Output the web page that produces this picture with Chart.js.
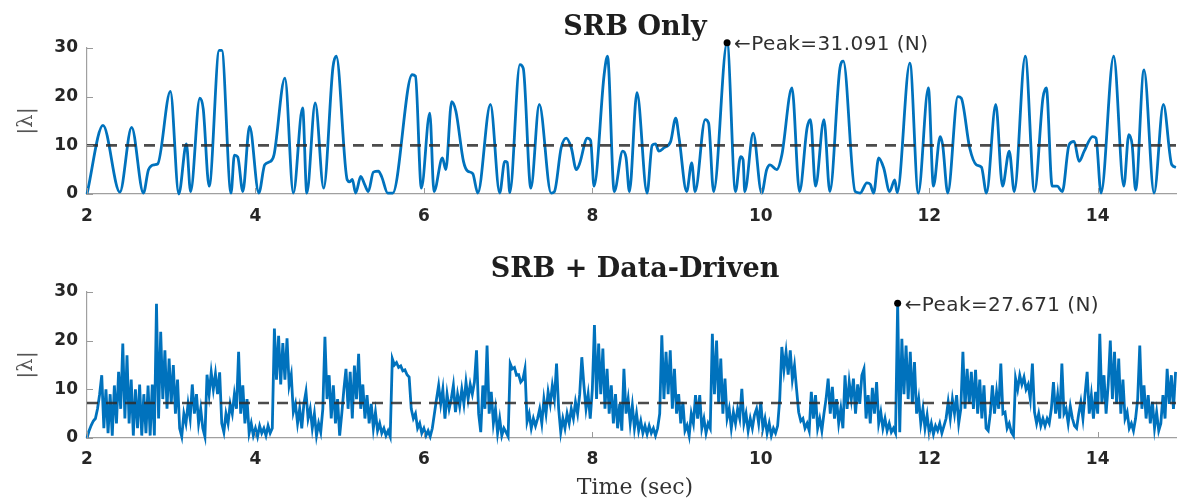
<!DOCTYPE html>
<html><head><meta charset="utf-8">
<script src="https://cdn.jsdelivr.net/npm/chart.js@4.4.1/dist/chart.umd.min.js"></script>
<style>
html,body{margin:0;padding:0;background:#fff;width:1179px;height:499px;overflow:hidden}
canvas{position:absolute;left:0}
#c1{top:0}
#c2{top:250px}
</style></head><body>
<canvas id="c1" width="1179" height="250"></canvas>
<canvas id="c2" width="1179" height="249"></canvas>
<script>
// ---------- DATA ----------
const xTicks = [2, 4, 6, 8, 10, 12, 14];
const yTicks = [0, 10, 20, 30];
const timeRange = [2, 14.93];

// Top: SRB only (time, |lambda|) read at extrema
const srbTime = [2.0,2.19,2.39,2.53,2.67,2.73,2.8,2.84,2.99,3.09,3.18,3.23,3.34,3.38,3.45,3.57,3.6,3.71,3.75,3.79,3.85,3.93,4.04,4.11,4.18,4.22,4.35,4.45,4.56,4.61,4.71,4.81,4.92,4.96,5.09,5.12,5.15,5.19,5.25,5.3,5.34,5.4,5.46,5.5,5.57,5.63,5.86,5.9,5.97,6.07,6.12,6.22,6.26,6.33,6.38,6.47,6.52,6.58,6.64,6.79,6.9,6.96,6.99,7.02,7.14,7.18,7.27,7.37,7.51,7.55,7.63,7.69,7.75,7.81,7.85,7.94,7.98,8.02,8.14,8.18,8.26,8.36,8.4,8.44,8.53,8.65,8.71,8.75,8.79,8.85,8.93,8.99,9.03,9.12,9.18,9.22,9.34,9.38,9.44,9.6,9.7,9.76,9.79,9.81,9.91,10.01,10.07,10.11,10.19,10.25,10.37,10.46,10.55,10.59,10.65,10.75,10.82,10.94,10.98,11.12,11.18,11.26,11.3,11.34,11.4,11.46,11.53,11.59,11.62,11.77,11.87,11.99,12.05,12.13,12.16,12.22,12.34,12.38,12.48,12.56,12.62,12.68,12.79,12.87,12.95,13.01,13.14,13.25,13.35,13.39,13.46,13.52,13.58,13.66,13.72,13.78,13.84,13.94,13.98,14.04,14.19,14.31,14.37,14.41,14.45,14.55,14.67,14.78,14.88,14.93];
const srbForce = [0,14.1,0.4,13.7,0.2,5,6,6.2,21.1,0,10.3,0.5,19.7,17.5,1.6,29.5,29.5,0.2,8,7.6,0.5,13.9,0.2,6,6.7,8,23.8,0.2,17.7,0.2,18.7,1.2,26,28.3,2.9,2.5,3,0.2,3.6,1.8,0.5,4.5,4.7,3.5,0.2,0.2,24.5,24.2,1.2,16.6,0.5,7.4,5,19,17,6.7,4.7,4.2,0.2,18.4,0.2,6.7,6.5,0.3,26.6,25.8,1.2,18.4,0.2,0.5,9.5,11.5,9.5,5,6.3,11.5,11,1.6,24.5,28.3,0.5,8.8,7.5,0.5,20.8,0.2,10,10.3,8.8,9.5,10.8,15.6,11.5,0.5,6.4,0.5,15.3,14.6,0.5,31.091,0.5,7.7,7,0.5,12.5,0.2,5,6,5,8,21.8,0.5,13.6,15.3,1.6,15.3,0.5,25.9,27.3,0.5,0.2,2.3,2,0.2,7.4,5.3,0.5,2.9,0.3,26.9,0.2,21.8,1.6,11.8,10,0.2,20,19.7,9.5,6,5.5,0.2,18.4,1.6,8.8,0.5,28.3,0.5,19.7,21.8,1.6,1.6,0.5,10.1,10.8,6.7,8.8,11.8,11.5,0.2,28.3,1.6,12.2,10,0.8,25.5,0.2,18.4,6,5.5];
const srbThreshold = 10;
const srbPeak = [9.6, 31.091];

// Bottom: SRB + Data-Driven, sampled every 0.025 s from 2.0 s
const ddStart = 2.0, ddStep = 0.025;
const ddForce = [
0,1.5,2.6,3.5,4,6,9,12.9,2,10,1,9,0.5,10.8,3,13.6,6,19.4,4,17,
3,12,0.5,10,2,11,0.5,9,1,10.8,0.5,11,0.5,27.6,4,21.8,8,18,6,16.3,
7,15,5,12,2,0.3,5,3,7,4,11,5,9,3,6,2,0.3,13,9,13.5,
10,13.2,9,13.5,3,1.2,5,3,7,5,9,6,17.7,5,10.8,3,8,1,3,0.5,
2,0.3,2.5,1,2,0.5,2.5,1,2,22.5,12,21,11,19.5,12,20.5,10.8,13,5.3,7,
3,6,2,7,9.5,4,6,2,5,0.5,3,1.2,6,20.8,8,12.9,4,10.8,3,8,
0.5,5,10,14.2,6,13.6,4,14.9,8,17.3,6,11,4,8.8,3,7,2,5.3,1.5,3,
1,2,0.5,1.5,0.3,16.3,15,15.5,14.5,14.8,13.8,14,13,12.5,6,4,5,2,3,1,
2,0.5,1.5,0.3,2,5,8,10.8,7,10,4,9,6,8,10.8,5.3,9,6.5,10,7,
11.5,8,11,9,11.5,18,5,1.2,10.8,6,19,5,9.5,3,6,1,4,0.5,2,1.2,
0.3,15.3,14.2,14.5,12.9,13,11.5,12,14.2,3.3,5,2,4,2.5,4,6,3,8,5,9.5,
7,10.8,8,15.3,6,1.2,4,2,5,3,6,4,7.4,5,9,16.6,10.8,6,9,4,
10,23.2,8,19.4,9,18.4,6,14.2,5,10.8,3,9,2,7,1.5,14.2,5,8,3,6.7,
2,5,1.5,3.5,1,2.5,0.8,2.5,1,2,0.5,2,5,21.1,8,17.7,9,18,6,14.2,
5,9,3,7.4,1.5,2.6,0.5,5,3,8.8,4,8.8,2,4,1,3,2,21.4,9,20,
7,16.3,5,12.2,4,6,2,5.3,3,6,4,10.1,3,5,1.5,4,2,4.7,6,3,
7.4,2,4,1,3,0.5,2,1,2.5,8,18.7,14,17.7,13,18,12,14.9,10,5.3,3.5,
4,2,3,1.5,9.5,4,8.8,2,4,1.5,5,8,12.2,5,10.5,4,8,3,6,2,
12.9,6,11.5,8,12.2,5,11,7,12.9,14.2,4,8.8,3,10.3,5,11.5,3,5.3,2,4,
1.5,3,1.2,2,1,27.671,1.2,20.4,9,19,8,17.7,7,15.6,5,8,3,6,2,4.7,
1,3,0.8,2.5,1.5,3,1,2.5,4,7.4,4,8,5,8.8,3,6,17.7,6,14.2,7,
13.6,6,14,5,12,4,10.8,2,1.5,5,10.8,5,9.5,6,15.3,5,5.3,2,3,1.2,
0.5,12.2,10,12.9,11,12.5,10,11,8,15.3,5.3,3,5,2.5,4,2.5,4,3,6,11.5,
5,8.8,4,15.3,5,6,3,6.5,4,2.5,2,5,7.4,4,9,13.6,5,8.8,4,9.5,
5,21.4,7,12.9,5,11,20,8,17.7,7,16.3,5,12,4,5.3,2,3,1.5,4,8,
19,6,10.8,4,8.8,3,7.4,2,5.3,1.5,3,8.8,4,14.2,7,12.9,6,13.6];
const ddThreshold = 7.2;
const ddPeak = [11.625, 27.671];

const titles = ["SRB Only", "SRB + Data-Driven"];
const yLabel = "|\u03BB|";
const xLabel = "Time (sec)";

// ---------- CHART ----------
const BLUE = '#0072BD';
const textPlugin = {
  id: 'txt',
  afterDraw(chart, args, o) {
    const {ctx, chartArea: a, scales: {x, y}} = chart;
    ctx.save();
    ctx.strokeStyle = '#9a9a9a'; ctx.lineWidth = 1;
    x.ticks.forEach(t => {
      const p = Math.round(x.getPixelForValue(t.value)) + 0.5;
      ctx.beginPath(); ctx.moveTo(p, a.bottom); ctx.lineTo(p, a.bottom - 6); ctx.stroke();
    });
    y.ticks.forEach(t => {
      const p = Math.round(y.getPixelForValue(t.value)) + 0.5;
      ctx.beginPath(); ctx.moveTo(a.left, p); ctx.lineTo(a.left + 6, p); ctx.stroke();
    });
    // title
    ctx.fillStyle = '#1e1e1e';
    ctx.font = 'bold 27px "DejaVu Serif"';
    ctx.textAlign = 'center'; ctx.textBaseline = 'alphabetic';
    ctx.fillText(o.title, 635, o.titleY);
    // y label
    ctx.save();
    ctx.translate(27, (a.top + a.bottom) / 2);
    ctx.rotate(-Math.PI / 2);
    ctx.fillStyle = '#555';
    ctx.font = '21px "DejaVu Serif"';
    ctx.textBaseline = 'middle';
    ctx.fillText(yLabel, 0, 0);
    ctx.restore();
    // peak marker + label
    const px = x.getPixelForValue(o.peak[0]), py = y.getPixelForValue(o.peak[1]);
    ctx.fillStyle = '#000';
    ctx.beginPath(); ctx.arc(px, py, 3.5, 0, Math.PI * 2); ctx.fill();
    ctx.fillStyle = '#303030';
    ctx.font = '20px "DejaVu Sans"';
    if ('letterSpacing' in ctx) ctx.letterSpacing = '0.4px';
    ctx.textAlign = 'left'; ctx.textBaseline = 'middle';
    ctx.fillText('\u2190Peak=' + o.peak[1].toFixed(3) + ' (N)', px + 7, py + 2);
    if ('letterSpacing' in ctx) ctx.letterSpacing = '0px';
    // x label
    if (o.xlabel) {
      ctx.fillStyle = '#333';
      ctx.font = '22px "DejaVu Serif"';
      ctx.textAlign = 'center'; ctx.textBaseline = 'alphabetic';
      ctx.fillText(o.xlabel, 635, o.xlabelY);
    }
    ctx.restore();
  }
};

function makeChart(id, cfg) {
  const tickFont = {family: '"DejaVu Sans"', size: 17, weight: 'bold'};
  new Chart(document.getElementById(id), {
    type: 'line',
    data: {
      datasets: [
        {data: [{x: timeRange[0], y: cfg.threshold}, {x: timeRange[1], y: cfg.threshold}],
         borderColor: 'rgba(45,45,45,0.85)', borderWidth: 2.6, borderDash: [11, 8], pointRadius: 0},
        {data: cfg.points, borderColor: BLUE, borderWidth: cfg.lw, pointRadius: 0,
         cubicInterpolationMode: cfg.smooth ? 'monotone' : 'default', tension: 0, clip: false}
      ]
    },
    options: {
      responsive: false, animation: false, devicePixelRatio: 1,
      layout: {padding: {top: cfg.top, right: 3, left: 0, bottom: 0}},
      plugins: {legend: {display: false}, tooltip: {enabled: false},
        txt: {title: cfg.title, titleY: cfg.titleY, peak: cfg.peak, xlabel: cfg.xlabel, xlabelY: cfg.xlabelY}},
      scales: {
        x: {type: 'linear', min: timeRange[0], max: timeRange[1],
            afterFit: s => { s.height = cfg.xh; },
            afterBuildTicks: s => { s.ticks = xTicks.map(v => ({value: v})); },
            ticks: {font: tickFont, color: '#262626', padding: cfg.xpad, maxRotation: 0, includeBounds: false},
            grid: {display: false, drawTicks: false},
            border: {display: true, color: '#a0a0a0', width: 1.2}},
        y: {type: 'linear', min: 0, max: 30,
            afterFit: s => { s.width = 87; },
            afterBuildTicks: s => { s.ticks = yTicks.map(v => ({value: v})); },
            ticks: {font: tickFont, color: '#262626', padding: 9},
            grid: {display: false, drawTicks: false},
            border: {display: true, color: '#a0a0a0', width: 1.2}}
      }
    },
    plugins: [textPlugin]
  });
}

makeChart('c1', {
  points: srbTime.map((t, i) => ({x: t, y: srbForce[i]})),
  threshold: srbThreshold, peak: srbPeak, smooth: true, lw: 2.8,
  top: 48, xh: 56, xpad: 12, title: titles[0], titleY: 35
});
makeChart('c2', {
  points: ddForce.map((v, i) => ({x: ddStart + i * ddStep, y: v})),
  threshold: ddThreshold, peak: ddPeak, smooth: false, lw: 2.8,
  top: 42, xh: 61, xpad: 11, title: titles[1], titleY: 27, xlabel: xLabel, xlabelY: 244
});
</script></body></html>
